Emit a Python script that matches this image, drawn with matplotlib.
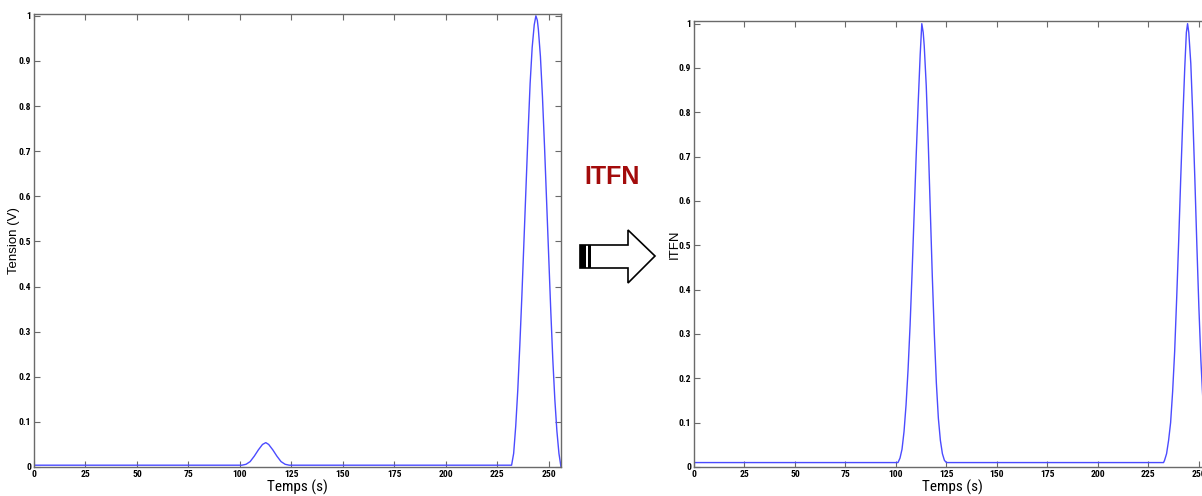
import numpy as np
from matplotlib import pyplot as plt
from matplotlib.patches import Polygon, Rectangle

# signal (Tension)
tension_t = [0, 101, 103, 105, 107, 109, 111, 112.6, 114, 116, 118, 120, 122, 124,
             232, 233, 234, 235, 236, 237, 238, 239, 240, 241, 242, 243, 243.8,
             244.5, 245, 246, 247, 248, 249, 250, 251, 252, 253, 254, 255, 256]
tension_v = [0.004, 0.004, 0.006, 0.012, 0.024, 0.038, 0.050, 0.054, 0.050, 0.038,
             0.024, 0.012, 0.006, 0.004,
             0.004, 0.03, 0.09, 0.17, 0.27, 0.38, 0.50, 0.62, 0.74, 0.85, 0.93, 0.98, 1.0,
             0.99, 0.97, 0.91, 0.82, 0.71, 0.59, 0.47, 0.35, 0.24, 0.15, 0.08, 0.03, 0.0]

# signal (ITFN)
itfn_t = [0, 101, 102, 103, 104, 105, 106, 107, 108, 109, 110, 111, 112, 112.8, 113.5,
          114, 115, 116, 117, 118, 119, 120, 121, 122, 123, 124, 125,
          232.5, 233, 234, 235, 236, 237, 238, 239, 240, 241, 242, 243, 243.8, 244.4,
          245, 246, 247, 248, 249, 250, 251, 252, 253, 254, 255, 256]
itfn_v = [0.01, 0.01, 0.02, 0.04, 0.08, 0.14, 0.22, 0.32, 0.44, 0.57, 0.70, 0.82, 0.93, 1.0, 0.98,
          0.95, 0.86, 0.73, 0.58, 0.43, 0.30, 0.19, 0.11, 0.06, 0.03, 0.015, 0.01,
          0.01, 0.015, 0.03, 0.06, 0.10, 0.17, 0.26, 0.38, 0.51, 0.65, 0.78, 0.90, 0.98, 1.0,
          0.98, 0.91, 0.79, 0.65, 0.50, 0.36, 0.24, 0.15, 0.08, 0.04, 0.02, 0.01]

x_ticks = [0, 25, 50, 75, 100, 125, 150, 175, 200, 225, 250]
y_ticks = [0, 0.1, 0.2, 0.3, 0.4, 0.5, 0.6, 0.7, 0.8, 0.9, 1]
y_ticklabels = ['0', '0.1', '0.2', '0.3', '0.4', '0.5', '0.6', '0.7', '0.8', '0.9', '1']

narrow = ['Liberation Sans Narrow', 'Roboto Condensed', 'DejaVu Sans']
line_color = '#4b4bff'
spine_color = '#6a6a6a'


def matlab_axes(ax, t, v, ylabel, top):
    ax.plot(t, v, color=line_color, linewidth=1.0)
    ax.set_xlim(0, 256)
    ax.set_ylim(0, top)
    ax.set_xticks(x_ticks)
    ax.set_xticklabels([str(x) for x in x_ticks], family=narrow, stretch='condensed',
                       fontweight='bold', fontsize=6.8)
    ax.set_yticks(y_ticks)
    ax.set_yticklabels(y_ticklabels, family=narrow, stretch='condensed',
                       fontweight='bold', fontsize=6.8)
    ax.tick_params(direction='in', length=4, width=0.8, color=spine_color,
                   top=True, right=True, pad=2)
    for s in ax.spines.values():
        s.set_color(spine_color)
        s.set_linewidth(1.0)
    ax.set_xlabel('Temps (s)', family=narrow, stretch='condensed', fontsize=11, labelpad=1)
    ax.set_ylabel(ylabel, fontfamily='Liberation Sans', fontsize=9.5)
    ax.yaxis.set_label_coords(-0.026, 0.5)


fig = plt.figure(figsize=(12.02, 4.96), dpi=100)

ax1 = fig.add_axes([34 / 1202, 1 - 467 / 496, 527 / 1202, 453 / 496])
matlab_axes(ax1, tension_t, tension_v, 'Tension (V)', 1.004)

ax2 = fig.add_axes([694 / 1202, 1 - 467 / 496, 517 / 1202, 446 / 496])
matlab_axes(ax2, itfn_t, itfn_v, 'ITFN', 1.006)

# red label and the block arrow between both graphs
fig.text(584 / 1202, 1 - 177 / 496, 'ITFN', color='#a30b0b', fontsize=18,
         fontweight='bold', fontfamily='Liberation Sans', va='center', ha='left')


def fx(px):
    return px / 1202


def fy(py):
    return 1 - py / 496


arrow = Polygon([(fx(580), fy(245)), (fx(628), fy(245)), (fx(628), fy(230)),
                 (fx(655), fy(256)), (fx(628), fy(283)), (fx(628), fy(268)),
                 (fx(580), fy(268))], closed=True, transform=fig.transFigure,
                facecolor='white', edgecolor='black', linewidth=1.2)
fig.patches.append(arrow)
fig.patches.append(Rectangle((fx(580), fy(268)), fx(6), 23 / 496,
                             transform=fig.transFigure, facecolor='black', edgecolor='none'))
fig.patches.append(Rectangle((fx(588), fy(268)), fx(3), 23 / 496,
                             transform=fig.transFigure, facecolor='black', edgecolor='none'))

plt.savefig('out.png', dpi=100)
